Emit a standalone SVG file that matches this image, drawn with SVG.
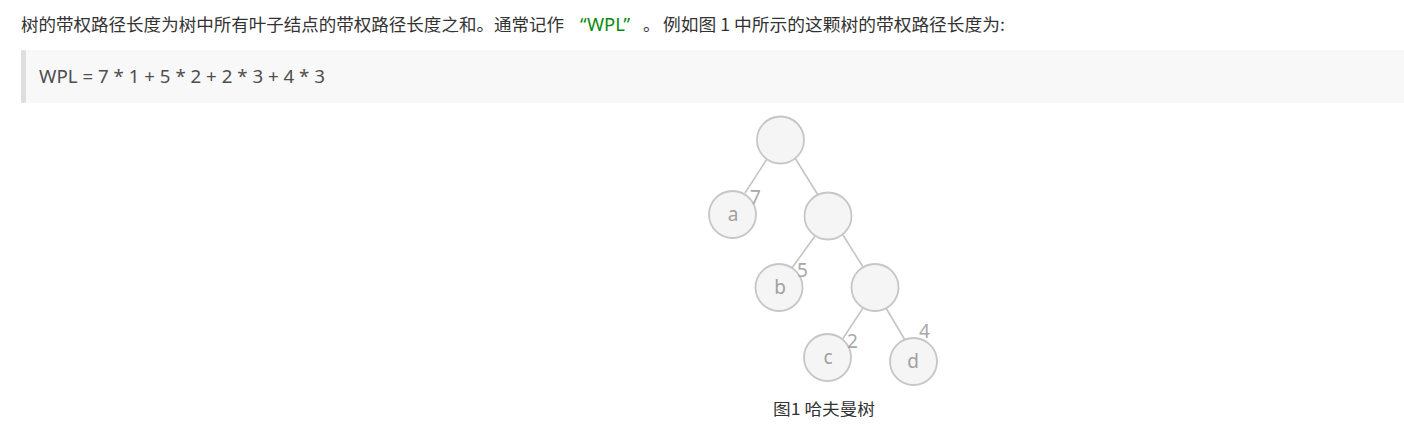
<svg xmlns="http://www.w3.org/2000/svg" width="1404" height="439" viewBox="0 0 1404 439">
<style>
.t{font-family:"Noto Sans CJK SC","Noto Sans",sans-serif;font-size:17px;fill:#333}
.g{font-family:"Noto Sans","Liberation Sans",sans-serif;font-size:18px;fill:#0a8a0a}
.q{font-family:"Noto Sans","Liberation Sans",sans-serif;font-size:18px;fill:#4d4d4d}
.n circle{fill:#f5f5f5;stroke:#c6c6c6;stroke-width:1.8}
.lbl{font-family:"Noto Sans","Liberation Sans",sans-serif;font-size:19px;fill:#a0a0a0;text-anchor:middle}
.w{font-family:"Noto Sans","Liberation Sans",sans-serif;font-size:19px;fill:#a8a8a8}
.e line{stroke:#c4c4c4;stroke-width:1.6}
.cap{font-family:"Noto Sans CJK SC","Noto Sans",sans-serif;font-size:16px;fill:#333}
</style>
<rect width="1404" height="439" fill="#fff"/>
<text class="t" x="21" y="31" textLength="543" lengthAdjust="spacingAndGlyphs">树的带权路径长度为树中所有叶子结点的带权路径长度之和。通常记作</text>
<text class="g" x="580" y="31" textLength="50" lengthAdjust="spacingAndGlyphs">“WPL”</text>
<text class="t" x="643" y="31">。</text>
<text class="t" x="663" y="31" textLength="342" lengthAdjust="spacingAndGlyphs">例如图 1 中所示的这颗树的带权路径长度为:</text>
<rect x="21" y="50" width="1383" height="53" fill="#f8f8f8"/>
<rect x="21" y="50" width="5" height="53" rx="2" fill="#dedede"/>
<text class="q" x="39" y="83" textLength="286" lengthAdjust="spacingAndGlyphs">WPL = 7 * 1 + 5 * 2 + 2 * 3 + 4 * 3</text>
<g id="connectors" class="e">
<line x1="767" y1="159" x2="745" y2="193"/>
<line x1="795" y1="158" x2="818" y2="195"/>
<line x1="815" y1="236" x2="792" y2="268"/>
<line x1="843" y1="235" x2="863" y2="267"/>
<line x1="863" y1="308" x2="842" y2="340"/>
<line x1="886" y1="308" x2="905" y2="340"/>
</g>
<g id="root" class="n"><circle cx="780.5" cy="140" r="23.5"/></g>
<g id="a" class="n"><circle cx="732.5" cy="214.5" r="23.5"/><text class="lbl" x="733" y="221">a</text></g>
<g id="n1" class="n"><circle cx="828" cy="216" r="23.5"/></g>
<g id="b" class="n"><circle cx="779" cy="287.5" r="23.5"/><text class="lbl" x="780" y="294">b</text></g>
<g id="n2" class="n"><circle cx="875" cy="287.5" r="23.5"/></g>
<g id="c" class="n"><circle cx="827.5" cy="357.5" r="23.5"/><text class="lbl" x="828" y="364">c</text></g>
<g id="d" class="n"><circle cx="913.5" cy="361.5" r="23.5"/><text class="lbl" x="913" y="368">d</text></g>
<g id="weights">
<text class="w" x="750" y="204">7</text>
<text class="w" x="797" y="277">5</text>
<text class="w" x="847" y="348">2</text>
<text class="w" x="919" y="338">4</text>
</g>
<text class="cap" x="773" y="415" textLength="102" lengthAdjust="spacingAndGlyphs">图1 哈夫曼树</text>
</svg>
